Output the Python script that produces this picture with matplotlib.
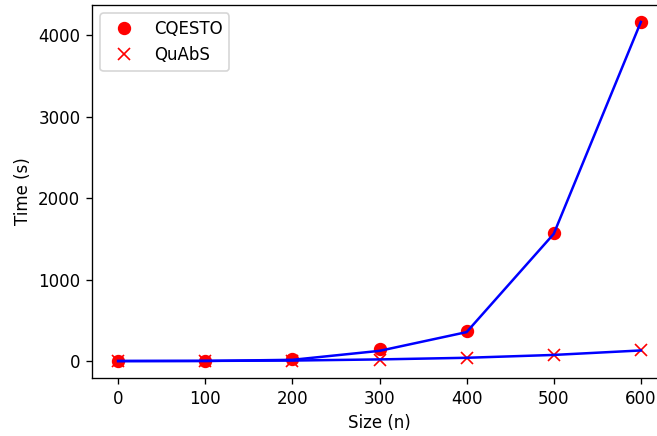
import matplotlib
matplotlib.use('Agg')
import matplotlib.pyplot as plt

# Sizes and measured times
sizes = [0, 100, 200, 300, 400, 500, 600]
cqesto_time = [2, 3, 20, 150, 370, 1570, 4160]
quabs_time = [1, 2, 5, 15, 40, 75, 130]

# Fitted curves (blue)
cqesto_fit = [0, 1, 15, 125, 355, 1560, 4160]
quabs_fit = [0, 2, 6, 20, 40, 75, 130]

fig = plt.figure(figsize=(657 / 120, 436 / 120), dpi=120)
ax = fig.add_axes([92 / 657, 58 / 436, 575 / 657, 373 / 436])

ax.plot(sizes, cqesto_time, 'o', color='red', markersize=7, label='CQESTO')
ax.plot(sizes, quabs_time, 'x', color='red', markersize=7, label='QuAbS')
ax.plot(sizes, cqesto_fit, color='blue', linewidth=1.5)
ax.plot(sizes, quabs_fit, color='blue', linewidth=1.5)

ax.set_xlabel('Size (n)')
ax.set_ylabel('Time (s)')
ax.set_xticks([0, 100, 200, 300, 400, 500, 600])
ax.set_yticks([0, 1000, 2000, 3000, 4000])
ax.legend(loc='upper left')

plt.savefig('out.png', dpi=120)
